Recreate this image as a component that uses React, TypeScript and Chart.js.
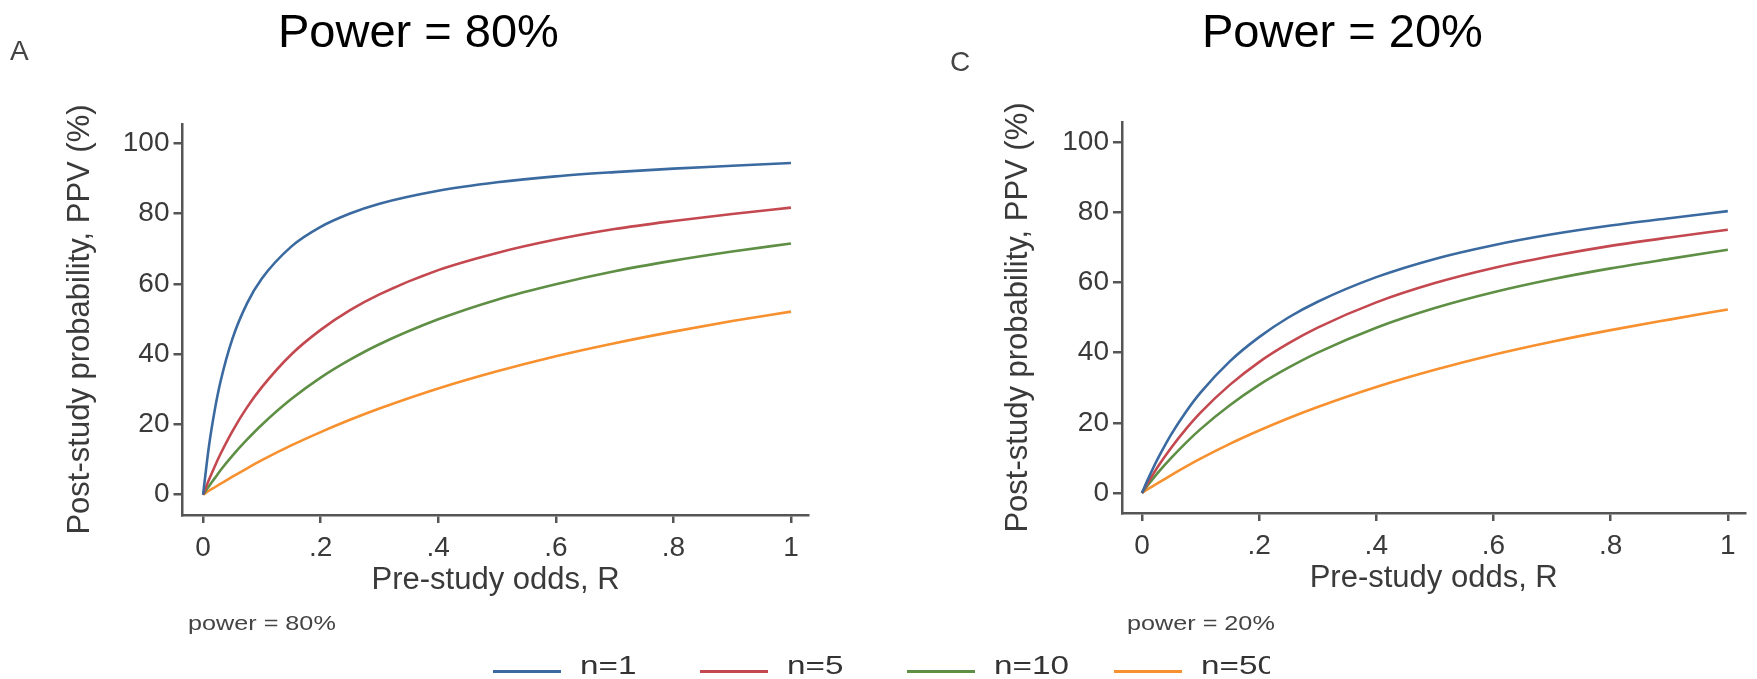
import React, { useEffect, useRef } from "react";
import { Chart, registerables } from "chart.js";

Chart.register(...registerables);

// ---------- data ----------
const oddsR = [0, 0.01, 0.02, 0.03, 0.05, 0.075, 0.1, 0.15, 0.2, 0.25, 0.3, 0.4, 0.5, 0.6, 0.7, 0.8, 0.9, 1];

const seriesLabels = ["n=1", "n=5", "n=10", "n=50"];
const seriesColors = ["#3a6aa0", "#c4484f", "#5e8f45", "#f7902f"];

// Power = 80%
const ppv80n1 = [0, 13.8, 24.2, 32.4, 44.4, 54.5, 61.5, 70.6, 76.2, 80.0, 82.8, 86.5, 88.9, 90.6, 91.8, 92.8, 93.6, 94.4];
const ppv80n5 = [0, 4.2, 8.1, 11.7, 18.1, 24.9, 30.6, 39.9, 46.9, 52.5, 57.0, 63.9, 68.8, 72.6, 75.6, 77.9, 79.9, 81.7];
const ppv80n10 = [0, 2.4, 4.7, 7.0, 11.1, 15.7, 19.9, 27.2, 33.3, 38.4, 42.8, 49.9, 55.5, 59.9, 63.6, 66.6, 69.2, 71.5];
const ppv80n50 = [0, 1.1, 2.1, 3.1, 5.1, 7.5, 9.8, 14.0, 17.8, 21.3, 24.5, 30.2, 35.1, 39.4, 43.1, 46.4, 49.4, 52.1];

// Power = 20%
const ppv20n1 = [0, 3.8, 7.4, 10.7, 16.7, 23.1, 28.6, 37.5, 44.4, 50.0, 54.5, 61.5, 66.7, 70.6, 73.7, 76.2, 78.3, 80.3];
const ppv20n5 = [0, 2.9, 5.6, 8.2, 12.9, 18.2, 22.9, 30.8, 37.3, 42.6, 47.1, 54.3, 59.8, 64.1, 67.5, 70.4, 72.8, 75.0];
const ppv20n10 = [0, 2.2, 4.3, 6.3, 10.0, 14.3, 18.2, 25.0, 30.8, 35.7, 40.0, 47.1, 52.7, 57.2, 60.9, 64.0, 66.7, 69.3];
const ppv20n50 = [0, 1.1, 2.1, 3.1, 5.1, 7.5, 9.8, 14.0, 17.8, 21.3, 24.5, 30.2, 35.1, 39.4, 43.1, 46.4, 49.4, 52.3];

const xTickValues = [0, 0.2, 0.4, 0.6, 0.8, 1];
const yTickValues = [0, 20, 40, 60, 80, 100];

const xAxisTitle = "Pre-study odds, R";
const yAxisTitle = "Post-study probability, PPV (%)";
const panelTitles = ["Power = 80%", "Power = 20%"];
const panelLetters = ["A", "C"];
const panelNotes = ["power = 80%", "power = 20%"];

// ---------- styles ----------
const FONT = "'Liberation Sans', Arial, Helvetica, sans-serif";
const AXIS_COLOR = "#555555";
const TEXT_COLOR = "#3a3a3a";

function formatX(v: number): string {
  if (v === 0) return "0";
  if (v === 1) return "1";
  return String(v).replace(/^0/, "");
}

type PanelCfg = {
  left: number;
  width: number;
  padTop: number;
  padRight: number;
  yWidth: number;
  xHeight: number;
  xMin: number;
  xMax: number;
  yMin: number;
  yMax: number;
  xTitlePadBottom: number;
  yTitlePadTop: number;
  series: number[][];
};

function Panel({ cfg }: { cfg: PanelCfg }) {
  const ref = useRef<HTMLCanvasElement | null>(null);
  useEffect(() => {
    if (!ref.current) return;
    const chart = new Chart(ref.current, {
      type: "line",
      data: {
        datasets: cfg.series.map((vals, i) => ({
          label: seriesLabels[i],
          data: oddsR.map((x, j) => ({ x, y: vals[j] })),
          borderColor: seriesColors[i],
          backgroundColor: seriesColors[i],
          borderWidth: 2.6,
          pointRadius: 0,
          cubicInterpolationMode: "monotone" as const,
          fill: false,
        })),
      },
      options: {
        animation: false,
        responsive: false,
        devicePixelRatio: 1,
        layout: { padding: { top: cfg.padTop, right: cfg.padRight, bottom: 0, left: 0 } },
        plugins: {
          legend: { display: false },
          tooltip: { enabled: false },
          title: { display: false },
        },
        scales: {
          x: {
            type: "linear",
            min: cfg.xMin,
            max: cfg.xMax,
            afterFit: (s: any) => {
              s.height = cfg.xHeight;
            },
            afterBuildTicks: (s: any) => {
              s.ticks = xTickValues.map((v) => ({ value: v }));
            },
            ticks: {
              callback: (v: any) => formatX(Number(v)),
              font: { family: FONT, size: 28 },
              color: TEXT_COLOR,
              padding: 8,
              maxRotation: 0,
              autoSkip: false,
            },
            grid: {
              drawOnChartArea: false,
              drawTicks: true,
              tickLength: 8,
              color: AXIS_COLOR,
              lineWidth: 2.5,
            },
            border: { display: true, color: AXIS_COLOR, width: 2.5 },
            title: {
              display: true,
              text: xAxisTitle,
              font: { family: FONT, size: 31 },
              color: TEXT_COLOR,
              padding: { top: 0, bottom: cfg.xTitlePadBottom },
            },
          },
          y: {
            type: "linear",
            min: cfg.yMin,
            max: cfg.yMax,
            afterFit: (s: any) => {
              s.width = cfg.yWidth;
            },
            afterBuildTicks: (s: any) => {
              s.ticks = yTickValues.map((v) => ({ value: v }));
            },
            ticks: {
              callback: (v: any) => String(v),
              font: { family: FONT, size: 28 },
              color: TEXT_COLOR,
              padding: 4,
              autoSkip: false,
            },
            grid: {
              drawOnChartArea: false,
              drawTicks: true,
              tickLength: 9,
              color: AXIS_COLOR,
              lineWidth: 2.5,
            },
            border: { display: true, color: AXIS_COLOR, width: 2.5 },
            title: {
              display: true,
              text: yAxisTitle,
              font: { family: FONT, size: 31 },
              color: TEXT_COLOR,
              padding: { top: cfg.yTitlePadTop, bottom: 0 },
            },
          },
        },
      },
    } as any);
    return () => chart.destroy();
  }, []);
  return (
    <canvas
      ref={ref}
      width={cfg.width}
      height={679}
      style={{ position: "absolute", left: cfg.left, top: 0, width: cfg.width, height: 679 }}
    />
  );
}

const leftCfg: PanelCfg = {
  left: 0,
  width: 820,
  padTop: 124,
  padRight: 11.4,
  yWidth: 182.5,
  xHeight: 164,
  xMin: -0.035,
  xMax: 1.03,
  yMin: -5.8,
  yMax: 105.5,
  xTitlePadBottom: 80.4,
  yTitlePadTop: 62,
  series: [ppv80n1, ppv80n5, ppv80n10, ppv80n50],
};

const rightCfg: PanelCfg = {
  left: 938,
  width: 816,
  padTop: 122,
  padRight: 8.6,
  yWidth: 184,
  xHeight: 166,
  xMin: -0.034,
  xMax: 1.03,
  yMin: -5.7,
  yMax: 105.7,
  xTitlePadBottom: 82.4,
  yTitlePadTop: 62,
  series: [ppv20n1, ppv20n5, ppv20n10, ppv20n50],
};

const textBase: React.CSSProperties = {
  position: "absolute",
  fontFamily: FONT,
  lineHeight: 1,
  whiteSpace: "nowrap",
  margin: 0,
};

export default function App() {
  const legendLeft = 493;
  const legendPitch = 207;
  return (
    <div
      style={{
        position: "absolute",
        left: 0,
        top: 0,
        width: 1757,
        height: 679,
        background: "#ffffff",
        overflow: "hidden",
      }}
    >
      <Panel cfg={leftCfg} />
      <Panel cfg={rightCfg} />

      <div style={{ ...textBase, left: 278, top: 7, fontSize: 47, color: "#000" }}>{panelTitles[0]}</div>
      <div style={{ ...textBase, left: 1202, top: 7, fontSize: 47, color: "#000" }}>{panelTitles[1]}</div>

      <div style={{ ...textBase, left: 10, top: 37, fontSize: 28, color: "#444" }}>{panelLetters[0]}</div>
      <div style={{ ...textBase, left: 950, top: 48, fontSize: 28, color: "#444" }}>{panelLetters[1]}</div>

      <div
        style={{
          ...textBase,
          left: 188,
          top: 612,
          fontSize: 21,
          color: "#444",
          transform: "scaleX(1.2)",
          transformOrigin: "0 0",
        }}
      >
        {panelNotes[0]}
      </div>
      <div
        style={{
          ...textBase,
          left: 1127,
          top: 612,
          fontSize: 21,
          color: "#444",
          transform: "scaleX(1.2)",
          transformOrigin: "0 0",
        }}
      >
        {panelNotes[1]}
      </div>

      <div
        style={{
          position: "absolute",
          left: 0,
          top: 640,
          width: 1270,
          height: 39,
          overflow: "hidden",
        }}
      >
        {seriesLabels.map((lab, i) => (
          <React.Fragment key={lab}>
            <div
              style={{
                position: "absolute",
                left: legendLeft + i * legendPitch,
                top: 29.5,
                width: 68,
                height: 3.5,
                background: seriesColors[i],
              }}
            />
            <div
              style={{
                ...textBase,
                left: legendLeft + 87 + i * legendPitch,
                top: 13.3,
                fontSize: 25,
                color: "#333",
                transform: "scaleX(1.33)",
                transformOrigin: "0 0",
              }}
            >
              {lab}
            </div>
          </React.Fragment>
        ))}
      </div>
    </div>
  );
}
